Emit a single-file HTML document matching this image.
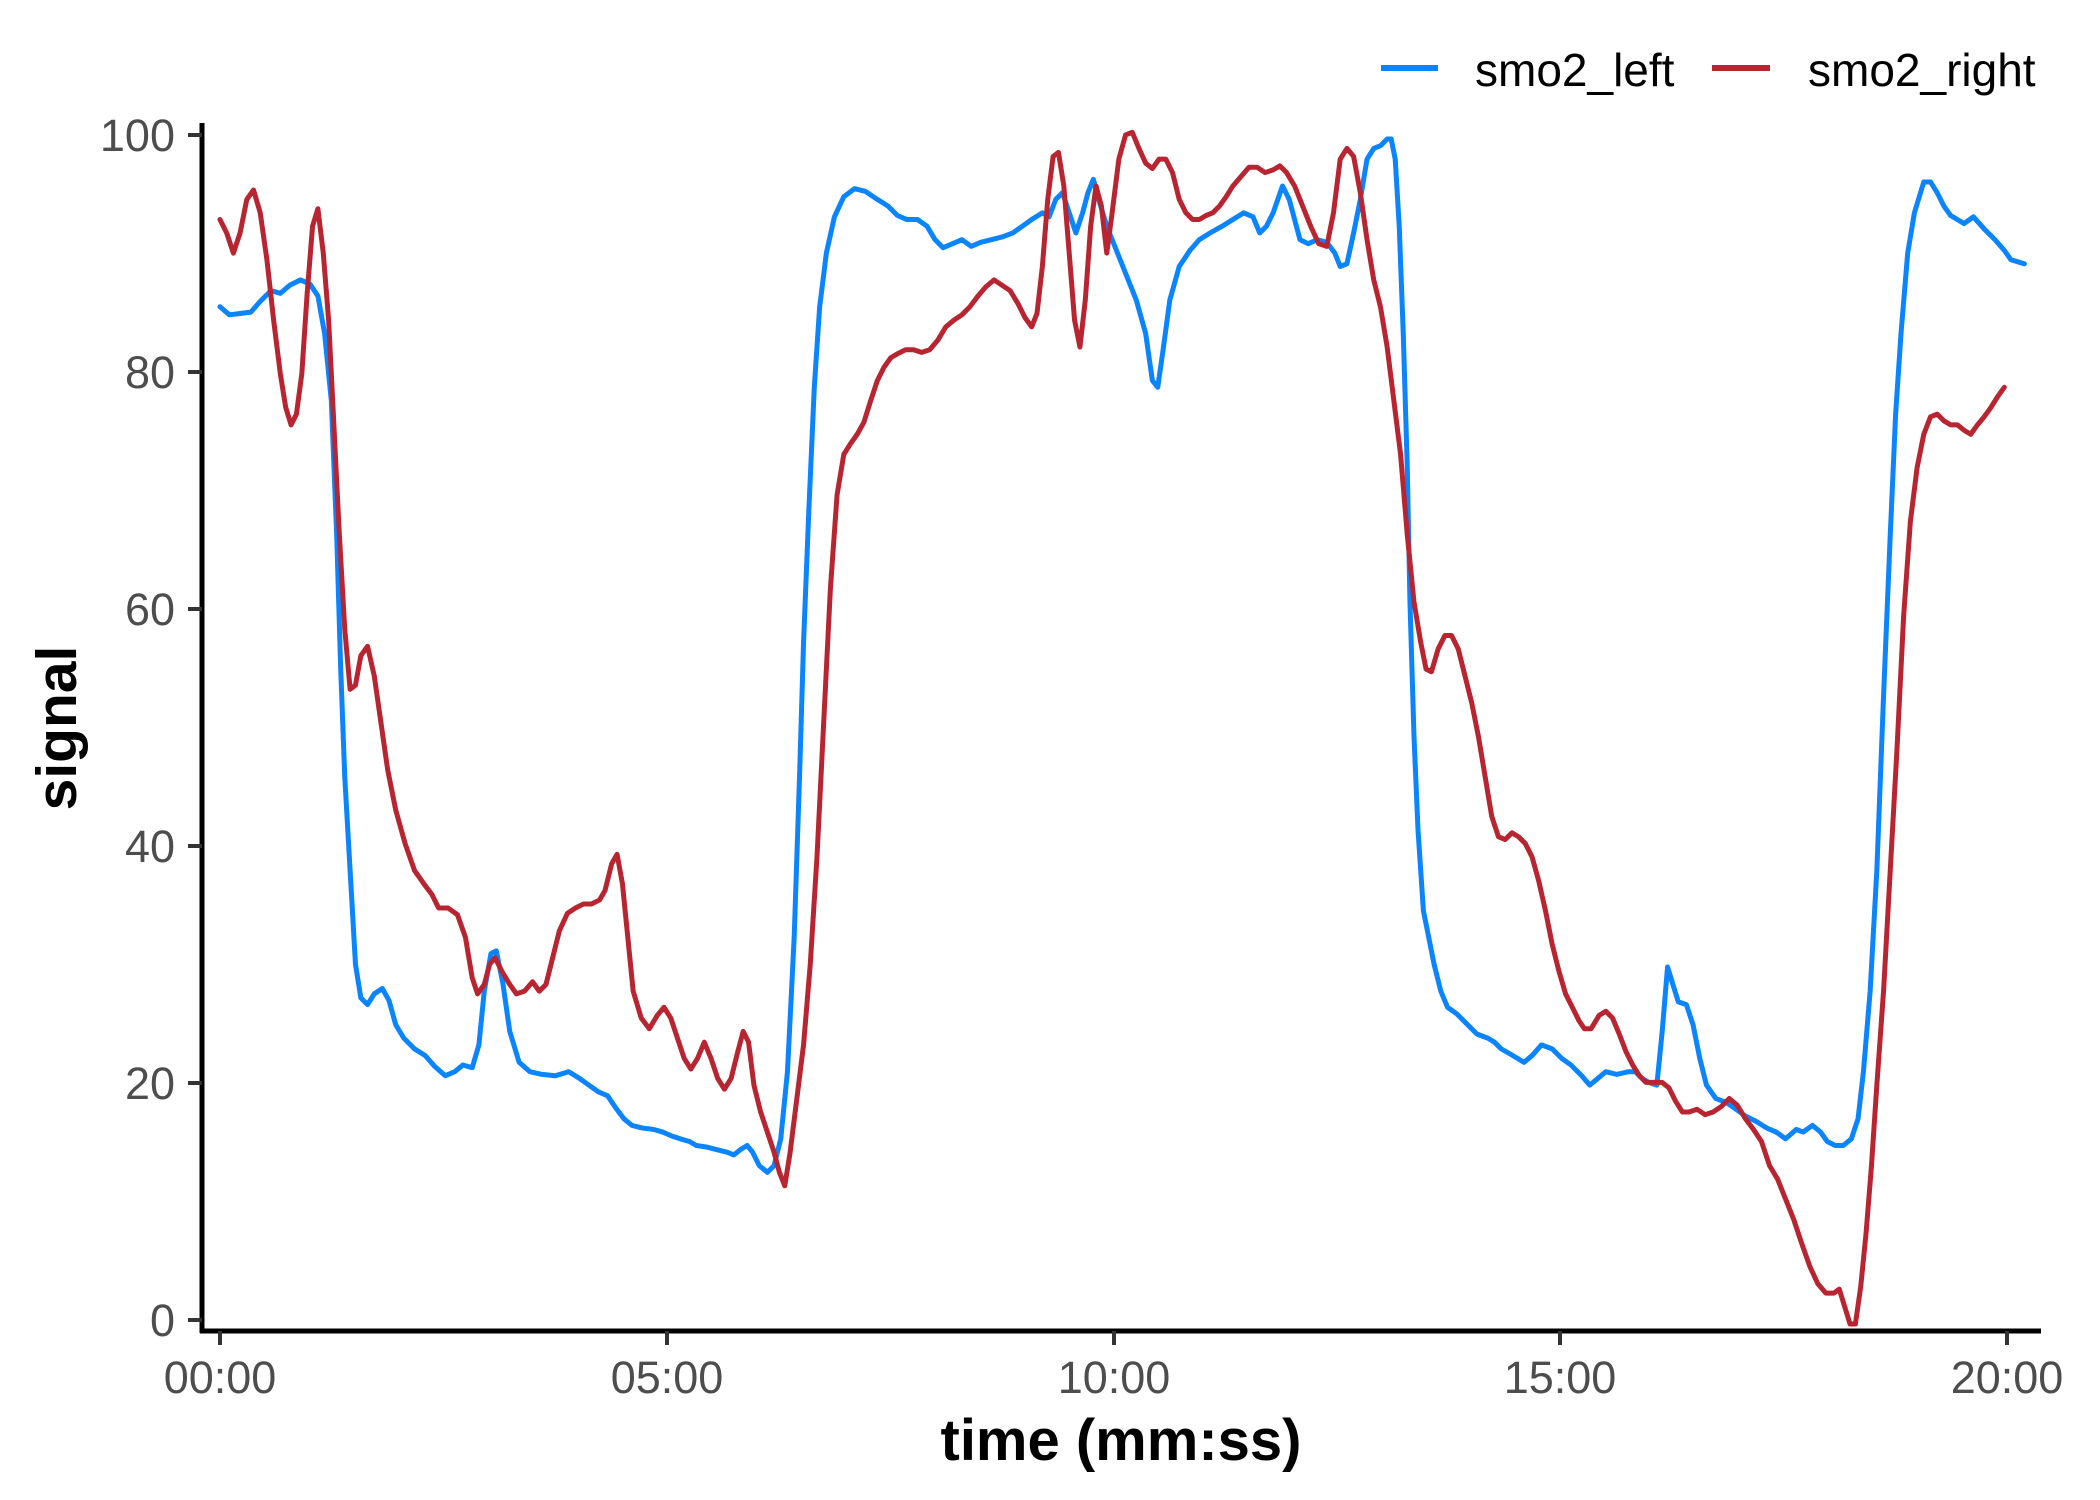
<!DOCTYPE html>
<html><head><meta charset="utf-8"><style>
html,body{margin:0;padding:0;background:#fff;}
svg{display:block;}
text{font-family:"Liberation Sans",Arial,sans-serif;}
</style></head><body>
<svg width="2100" height="1500" viewBox="0 0 2100 1500" xmlns="http://www.w3.org/2000/svg">
<rect width="2100" height="1500" fill="#fff"/>
<g transform="matrix(1.3416 0 0 1.342 -1.4 -1.9)" fill="none" stroke-linejoin="round" stroke-linecap="round">
<polyline vector-effect="non-scaling-stroke" stroke="#0A84FF" stroke-width="5" points="165,230 172,236 180,235 188,234 195,226 203,218 210,220 217,214 225,210 232,213 238,222 243,250 248,300 252,400 255,500 258,580 262,650 266,720 270,745 275,750 280,742 286,738 291,747 296,765 302,775 310,783 318,788 325,796 333,803 340,800 346,795 353,797 358,780 362,740 367,712 371,710 376,735 381,770 388,793 396,800 405,802 415,803 425,800 433,805 440,810 447,815 454,818 460,827 466,835 472,840 480,842 488,843 495,845 502,848 508,850 515,852 520,855 527,856 535,858 543,860 548,862 553,858 558,855 562,860 567,870 573,875 578,870 583,850 588,800 593,700 597,580 600,480 604,380 608,290 612,230 617,190 623,163 630,148 638,142 646,144 655,150 663,155 670,162 677,165 685,165 692,170 698,180 704,186 711,183 718,180 725,185 732,182 740,180 748,178 756,175 763,170 770,165 778,160 783,163 788,150 793,145 798,160 803,175 808,160 812,145 816,135 820,150 826,170 832,185 840,205 848,225 855,250 860,285 864,290 868,262 873,225 880,200 888,188 895,180 903,175 912,170 920,165 928,160 935,163 940,175 945,170 950,160 957,140 962,150 966,165 970,180 976,183 983,180 990,182 996,190 1000,200 1005,198 1010,175 1015,150 1020,120 1025,112 1030,110 1035,105 1038,105 1041,120 1044,170 1047,250 1050,350 1052,450 1055,550 1058,620 1062,680 1066,700 1070,720 1075,740 1080,752 1087,757 1095,765 1102,772 1110,775 1115,778 1120,783 1127,787 1132,790 1137,793 1143,788 1150,780 1158,783 1165,790 1172,795 1180,803 1186,810 1192,805 1198,800 1206,802 1215,800 1220,800 1225,805 1230,808 1236,810 1240,770 1244,722 1248,735 1252,748 1258,750 1263,765 1268,790 1273,810 1280,820 1288,823 1295,828 1302,833 1310,837 1318,842 1325,845 1332,850 1340,843 1345,845 1352,840 1358,845 1363,852 1369,855 1375,855 1381,850 1386,835 1390,800 1395,740 1400,650 1405,520 1410,400 1414,310 1418,250 1423,190 1428,160 1435,137 1440,137 1445,145 1450,155 1455,162 1460,165 1465,168 1472,163 1480,172 1488,180 1495,188 1500,195 1510,198"/>
<polyline vector-effect="non-scaling-stroke" stroke="#B82531" stroke-width="5" points="165,165 170,175 175,190 180,175 185,150 190,143 195,160 200,195 205,240 210,280 214,305 218,318 222,310 226,280 230,220 234,170 238,157 242,190 246,240 250,320 254,400 258,470 262,515 266,512 270,490 275,483 280,505 285,540 290,575 296,605 303,630 310,650 317,660 323,668 328,678 335,678 342,683 348,700 353,730 357,742 362,735 366,720 370,715 375,725 381,735 386,742 392,740 398,733 403,740 408,735 413,715 418,695 424,682 430,678 436,675 442,675 448,672 452,665 457,645 461,638 465,660 469,700 473,740 479,760 485,768 491,758 496,752 501,760 506,775 511,790 516,798 521,790 526,778 531,790 536,805 541,813 546,805 551,785 555,770 559,778 563,810 568,830 573,845 578,860 582,875 586,885 590,860 595,820 600,780 605,720 610,640 615,540 620,440 625,370 630,340 635,332 640,325 645,316 650,300 655,285 660,275 665,268 670,265 676,262 682,262 688,264 694,262 700,255 706,245 712,240 718,236 724,230 730,222 736,215 742,210 748,214 754,218 760,228 765,238 770,245 774,235 778,200 782,150 786,118 790,115 794,140 798,190 802,240 806,260 810,225 814,170 818,140 822,155 826,190 830,160 835,120 840,102 845,100 850,112 855,123 860,127 865,120 870,120 875,130 880,150 885,160 890,165 895,165 900,162 905,160 910,155 915,148 920,140 926,133 932,126 938,126 944,130 950,128 955,125 960,130 966,140 972,155 978,170 984,183 990,185 995,160 1000,120 1005,112 1010,118 1015,145 1020,180 1025,210 1030,230 1035,260 1040,300 1045,340 1050,400 1055,450 1060,480 1064,500 1068,502 1073,485 1078,475 1083,475 1088,485 1093,505 1098,525 1103,550 1108,580 1113,610 1118,625 1123,627 1128,622 1133,625 1138,630 1143,640 1148,658 1153,680 1158,705 1163,725 1168,742 1173,752 1178,762 1182,768 1187,768 1193,758 1198,755 1203,760 1208,772 1213,785 1218,795 1223,803 1228,808 1235,808 1240,808 1245,812 1250,822 1255,830 1260,830 1266,828 1272,832 1278,830 1284,826 1290,820 1296,825 1302,835 1308,843 1314,852 1320,870 1326,880 1332,895 1338,910 1344,928 1350,945 1356,958 1362,965 1368,965 1372,962 1376,975 1380,988 1384,988 1388,960 1392,920 1396,870 1400,810 1405,740 1410,650 1415,560 1420,460 1425,390 1430,350 1435,325 1440,312 1445,310 1450,315 1455,318 1460,318 1465,322 1470,325 1475,318 1480,312 1485,305 1490,297 1495,290"/>
</g>
<line x1="202" y1="123" x2="202" y2="1333" stroke="#000" stroke-width="5"/>
<line x1="200" y1="1331" x2="2041" y2="1331" stroke="#000" stroke-width="5"/>
<g stroke="#333" stroke-width="4">
<line x1="188" y1="135" x2="202" y2="135"/>
<line x1="188" y1="372" x2="202" y2="372"/>
<line x1="188" y1="609" x2="202" y2="609"/>
<line x1="188" y1="846" x2="202" y2="846"/>
<line x1="188" y1="1083" x2="202" y2="1083"/>
<line x1="188" y1="1320" x2="202" y2="1320"/>
<line x1="220" y1="1331" x2="220" y2="1345"/>
<line x1="667" y1="1331" x2="667" y2="1345"/>
<line x1="1114" y1="1331" x2="1114" y2="1345"/>
<line x1="1560" y1="1331" x2="1560" y2="1345"/>
<line x1="2007" y1="1331" x2="2007" y2="1345"/>
</g>
<g fill="#4d4d4d" font-size="45" text-anchor="end">
<text x="175" y="151">100</text>
<text x="175" y="388">80</text>
<text x="175" y="625">60</text>
<text x="175" y="862">40</text>
<text x="175" y="1099">20</text>
<text x="175" y="1336">0</text>
</g>
<g fill="#4d4d4d" font-size="45" text-anchor="middle">
<text x="220" y="1393">00:00</text>
<text x="667" y="1393">05:00</text>
<text x="1114" y="1393">10:00</text>
<text x="1560" y="1393">15:00</text>
<text x="2007" y="1393">20:00</text>
</g>
<text x="1121" y="1460" font-size="58" font-weight="bold" text-anchor="middle" fill="#000">time (mm:ss)</text>
<text transform="translate(76,728) rotate(-90)" font-size="57" font-weight="bold" text-anchor="middle" fill="#000">signal</text>
<line x1="1381" y1="68" x2="1438" y2="68" stroke="#0A84FF" stroke-width="6"/>
<text x="1475" y="86" font-size="46" fill="#000">smo2_left</text>
<line x1="1712" y1="68" x2="1770" y2="68" stroke="#B82531" stroke-width="6"/>
<text x="1808" y="86" font-size="46" fill="#000">smo2_right</text>
</svg>
</body></html>
